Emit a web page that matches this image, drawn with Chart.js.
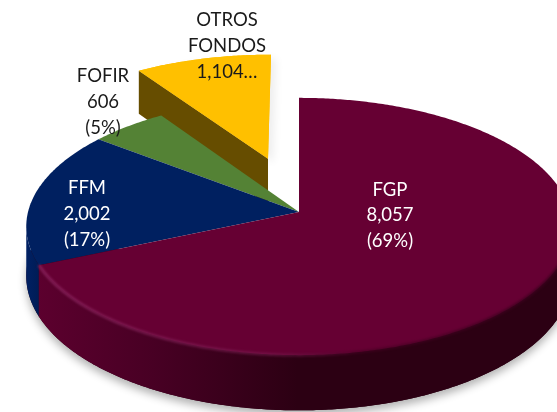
<!DOCTYPE html>
<html>
<head>
<meta charset="utf-8">
<style>
  html, body { margin: 0; padding: 0; background: #ffffff; }
  #chart { display: block; }
</style>
<script src="https://cdn.jsdelivr.net/npm/chart.js@4"></script>
</head>
<body>
<canvas id="chart" width="557" height="412"></canvas>
<script>
const categories = ["FGP", "FFM", "FOFIR", "OTROS FONDOS"];
const seriesValues = [8057, 2002, 606, 1104];
const valueLabels = ["8,057", "2,002", "606", "1,104…"];
const percentLabels = ["(69%)", "(17%)", "(5%)", ""];

const topColors = ["#660033", "#002060", "#548235", "#ffc000"];

// ===== Perspective of the tilted pie =====
const CX = 299, CY = 212, RX = 271, RY = 127, TILT = 0.1127, DEPTH = 49;

function project(u, v, down) {
    const w = 1 - TILT * v;
    return { x: CX + RX * u / w, y: CY + (RY * v + DEPTH * down) / w };
}

function tracePoints(ctx, pts) {
    ctx.beginPath();
    pts.forEach((p, i) => i ? ctx.lineTo(p.x, p.y) : ctx.moveTo(p.x, p.y));
    ctx.closePath();
}

function arcPoints(start, end, su, sv, down) {
    const pts = [];
    const steps = Math.ceil((end - start) / 0.01);
    for (let i = 0; i <= steps; i++) {
        const a = start + (end - start) * i / steps;
        pts.push(project(su + Math.cos(a), sv + Math.sin(a), down));
    }
    return pts;
}

// outer wall of a slice, only the part that faces the viewer
function drawOuterWall(ctx, start, end, fill) {
    const t = arcPoints(start, end, 0, 0, 0);
    const b = arcPoints(start, end, 0, 0, 1);
    const topRun = [], botRun = [];
    for (let i = 1; i < t.length; i++) {
        if (t[i].x < t[i - 1].x) {
            if (!topRun.length) { topRun.push(t[i - 1]); botRun.push(b[i - 1]); }
            topRun.push(t[i]);
            botRun.push(b[i]);
        }
    }
    if (!topRun.length) return topRun;
    tracePoints(ctx, topRun.concat(botRun.reverse()));
    ctx.fillStyle = fill;
    ctx.fill();
    return topRun;
}

const pieDepthPlugin = {
    id: "pieDepth",
    beforeDatasetDraw(chart) {
        const ctx = chart.ctx;
        const arcs = chart.getDatasetMeta(0).data.map(a => a.getProps(["startAngle", "endAngle"], true));
        ctx.save();

        // ===== Soft shadow under the disc (front half only) =====
        ctx.save();
        ctx.shadowColor = "rgba(0,0,0,0.3)";
        ctx.shadowBlur = 9;
        ctx.shadowOffsetY = 5;
        ctx.fillStyle = "#2b0012";
        tracePoints(ctx, arcPoints(-0.05, Math.PI + 0.1, 0, 0, 1));
        ctx.fill();
        ctx.restore();

        // ===== Exploded slice (OTROS FONDOS) =====
        const o = arcs[3];
        const su = -0.12, sv = -0.44;
        const apexTop = project(su, sv, 0);
        const apexBot = project(su, sv, 1);
        const cornerTop = project(su + Math.cos(o.startAngle), sv + Math.sin(o.startAngle), 0);
        const cornerBot = project(su + Math.cos(o.startAngle), sv + Math.sin(o.startAngle), 1);
        const otrosTop = [apexTop].concat(arcPoints(o.startAngle, o.endAngle, su, sv, 0));

        ctx.save();
        ctx.shadowColor = "rgba(0,0,0,0.07)";
        ctx.shadowBlur = 8;
        ctx.shadowOffsetX = 5;
        ctx.shadowOffsetY = 4;
        ctx.fillStyle = topColors[3];
        tracePoints(ctx, otrosTop);
        ctx.fill();
        ctx.restore();

        tracePoints(ctx, [apexTop, cornerTop, cornerBot, apexBot]);
        ctx.fillStyle = "#664d00";
        ctx.fill();
        tracePoints(ctx, otrosTop);
        ctx.fillStyle = topColors[3];
        ctx.fill();

        // ===== Back slices =====
        const apex = project(0, 0, 0);
        tracePoints(ctx, [apex].concat(arcPoints(arcs[2].startAngle, arcs[2].endAngle, 0, 0, 0)));
        ctx.fillStyle = topColors[2];
        ctx.fill();

        const navyWall = ctx.createLinearGradient(20, 0, 45, 0);
        navyWall.addColorStop(0, "#00226a");
        navyWall.addColorStop(1, "#001a4f");
        drawOuterWall(ctx, arcs[1].startAngle, arcs[1].endAngle, navyWall);
        tracePoints(ctx, [apex].concat(arcPoints(arcs[1].startAngle, arcs[1].endAngle, 0, 0, 0)));
        ctx.fillStyle = topColors[1];
        ctx.fill();

        // ===== Front slice =====
        const wall = ctx.createLinearGradient(38, 0, 557, 0);
        wall.addColorStop(0, "#5c002e");
        wall.addColorStop(0.22, "#480024");
        wall.addColorStop(0.5, "#2c0013");
        wall.addColorStop(1, "#2c0013");
        const rim = drawOuterWall(ctx, arcs[0].startAngle, arcs[0].endAngle, wall);

        tracePoints(ctx, [apex].concat(arcPoints(arcs[0].startAngle, arcs[0].endAngle, 0, 0, 0)));
        ctx.fillStyle = topColors[0];
        ctx.fill();

        // soft bevel along the front rim, pink on the left, dark on the right
        const bevel = ctx.createLinearGradient(38, 0, 557, 0);
        bevel.addColorStop(0, "rgba(140,35,95,0.8)");
        bevel.addColorStop(0.45, "rgba(125,30,85,0.55)");
        bevel.addColorStop(0.62, "rgba(70,0,35,0.6)");
        bevel.addColorStop(1, "rgba(60,0,30,0.8)");
        ctx.save();
        ctx.filter = "blur(1.2px)";
        ctx.beginPath();
        rim.forEach((p, i) => i ? ctx.lineTo(p.x, p.y) : ctx.moveTo(p.x, p.y));
        ctx.strokeStyle = bevel;
        ctx.lineWidth = 3;
        ctx.stroke();
        ctx.restore();

        ctx.restore();
        return false;
    },
    afterDatasetsDraw(chart) {
        const ctx = chart.ctx;
        ctx.save();
        ctx.font = "18.5px Lato";
        ctx.textAlign = "center";
        ctx.textBaseline = "middle";

        ctx.fillStyle = "#ffffff";
        [categories[0], valueLabels[0], percentLabels[0]].forEach((s, i) => ctx.fillText(s, 390, 190 + i * 25.5));
        [categories[1], valueLabels[1], percentLabels[1]].forEach((s, i) => ctx.fillText(s, 87, 188 + i * 26));

        ctx.fillStyle = "#1a1a1a";
        [categories[2], valueLabels[2], percentLabels[2]].forEach((s, i) => ctx.fillText(s, 103, 76 + i * 26));
        categories[3].split(" ").concat(valueLabels[3]).forEach((s, i) => ctx.fillText(s, 227, 20 + i * 26));
        ctx.restore();
    }
};

new Chart(document.getElementById("chart"), {
    type: "pie",
    data: {
        labels: categories,
        datasets: [{
            data: seriesValues,
            backgroundColor: topColors,
            borderWidth: 0
        }]
    },
    options: {
        responsive: false,
        animation: false,
        plugins: {
            legend: { display: false },
            tooltip: { enabled: false }
        }
    },
    plugins: [pieDepthPlugin]
});
</script>
</body>
</html>
